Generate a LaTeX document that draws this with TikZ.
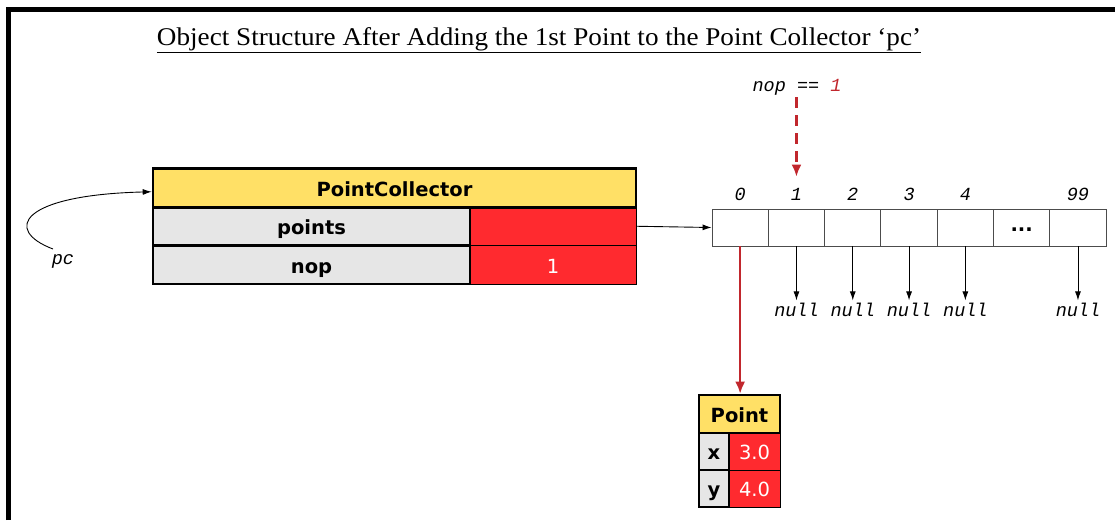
\documentclass[tikz,border=0pt]{standalone}
\usepackage{fontspec}
\setmainfont{Liberation Serif}
\newfontfamily\objfont{DejaVu Sans}
\newfontfamily\codefont{Liberation Mono}
\usetikzlibrary{arrows.meta}
\tikzset{>={Latex[length=9pt,width=6pt]}}
\definecolor{hdyellow}{HTML}{FFE066}
\definecolor{fldgrey}{HTML}{E6E6E6}
\definecolor{valred}{HTML}{FF2A2F}
\definecolor{refred}{HTML}{C1272D}
\tikzset{
  objtext/.style={text height=16.5pt, text depth=0pt, inner sep=0pt},
  hdbox/.style={draw, line width=2.6pt, fill=hdyellow, objtext,
    font=\objfont\bfseries\fontsize{19.5}{22}\selectfont},
  fldbox/.style={draw, line width=2.6pt, fill=fldgrey, objtext,
    font=\objfont\bfseries\fontsize{19.5}{22}\selectfont},
  valbox/.style={draw, line width=0.6pt, fill=valred, text=white, objtext,
    font=\objfont\fontsize{19.5}{22}\selectfont},
  cellbox/.style={draw=black!70, line width=0.9pt, minimum width=56.3pt,
    minimum height=37pt, inner sep=0pt},
  codetxt/.style={font=\codefont\itshape\fontsize{18.5}{20}\selectfont, inner sep=2pt},
  refline/.style={draw=refred, line width=2.5pt, -{Latex[length=12pt,width=10pt]}}
}

\begin{document}
\begin{tikzpicture}[x=1pt,y=-1pt]
  \useasboundingbox (0,0) rectangle (1115,520);
  \draw[line width=5pt] (8,520) -- (8,9.5) -- (1115,9.5);

  % title
  \node[anchor=base, inner sep=0pt] (title) at (539,45)
    {\resizebox{764pt}{\height}{\fontsize{25.5}{28}\selectfont\underline{Object Structure After Adding the 1st Point to the Point Collector ‘pc’}}};

  % the PointCollector object
  \node[valbox, minimum width=166pt, minimum height=38.5pt] (pv) at (553,226.25) {};
  \node[valbox, minimum width=166pt, minimum height=38.5pt] (nv) at (553,264.75) {1};
  \node[fldbox, minimum width=317pt, minimum height=38.5pt] (pf) at (311.5,226.25) {points};
  \node[fldbox, minimum width=317pt, minimum height=38.5pt] (nf) at (311.5,264.75) {nop};
  \node[hdbox, minimum width=483pt, minimum height=39pt] (hd) at (394.5,187.75) {PointCollector};

  \node[codetxt, anchor=base] (pc) at (63,264) {pc};
  \draw[line width=0.9pt, ->] (53,249) .. controls (3,230) and (20,195) .. ([yshift=-4pt]hd.west);

  % the array
  \foreach \i in {0,...,6}
    \node[cellbox] (c\i) at ({740.15+56.3*\i},227.5) {};
  \node[font=\objfont\bfseries\fontsize{19.5}{22}\selectfont] at ([yshift=-2pt]c5) {...};
  \foreach \i/\t in {0/0,1/1,2/2,3/3,4/4,6/99}
    \node[codetxt, anchor=base] (i\i) at ({740.15+56.3*\i},200) {\t};
  \foreach \i in {1,2,3,4,6}{
    \node[codetxt, anchor=base] (n\i) at ({740.15+56.3*\i},316) {null};
    \draw[line width=0.9pt, ->] (c\i.south) -- (n\i.north);
  }
  \draw[line width=0.9pt, ->] (pv.east) -- (c0.west);

  \node[codetxt, anchor=base] (nl) at (797,91) {nop == \textcolor{refred}{1}};
  \draw[refline, dash pattern=on 11pt off 7pt, shorten >=9pt] (nl.south -| i1) -- (i1.north);

  % the Point object
  \node[valbox, minimum width=51pt, minimum height=37pt] (xv) at (754.5,451.5) {3.0};
  \node[valbox, minimum width=51pt, minimum height=37pt] (yv) at (754.5,488.5) {4.0};
  \node[fldbox, minimum width=30pt, minimum height=37pt] (xf) at (714,451.5) {x};
  \node[fldbox, minimum width=30pt, minimum height=37pt] (yf) at (714,488.5) {y};
  \node[hdbox, minimum width=81pt, minimum height=38pt] (ph) at (739.5,414) {Point};

  \draw[refline] (c0.south) -- (c0.south |- ph.north);
\end{tikzpicture}
\end{document}
